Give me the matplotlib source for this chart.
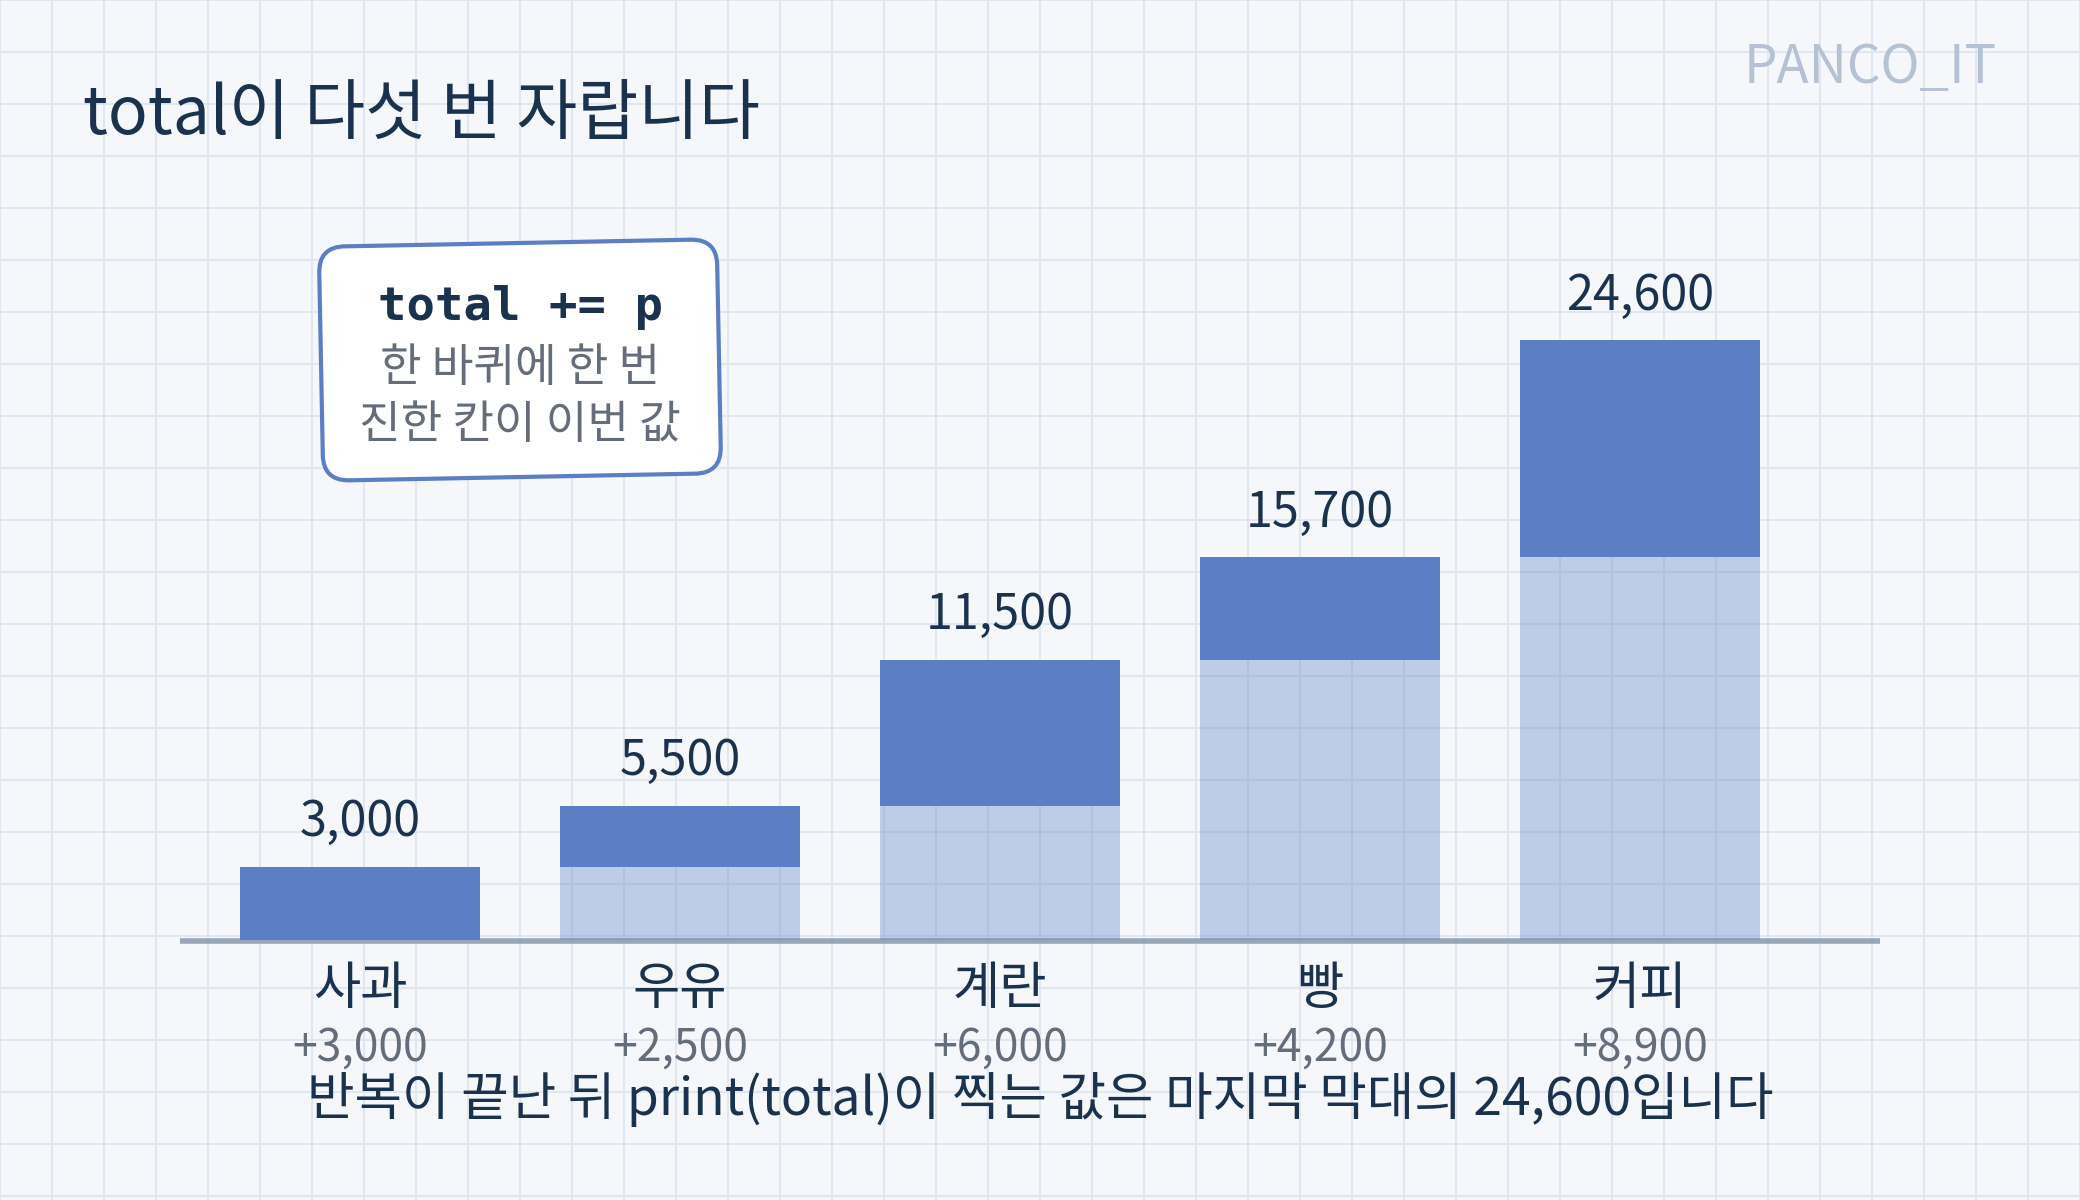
"""total += p : running total of a shopping loop, drawn as stacked bars."""
import numpy as np
import matplotlib
matplotlib.use("Agg")
import matplotlib.pyplot as plt
from matplotlib.patches import FancyBboxPatch
from matplotlib.transforms import Affine2D

plt.rcParams["font.family"] = ["Noto Sans CJK KR", "DejaVu Sans"]

items = ["사과", "우유", "계란", "빵", "커피"]
prices = [3000, 2500, 6000, 4200, 8900]
before = [0, 3000, 5500, 11500, 15700]
totals = [3000, 5500, 11500, 15700, 24600]

BG = "#f5f7fb"
GRID = "#dce4ef"
BLUE = "#5b7ec4"
NAVY = "#1b324f"
GREY = "#646d79"
AXIS = "#98a6b8"

W, H, DPI = 2080, 1200, 200


def px(x, y_top):
    """figure fraction from pixel coords measured from the top-left."""
    return x / W, 1 - y_top / H


def background(fig):
    bg = fig.add_axes([0, 0, 1, 1], zorder=-5)
    bg.set_xlim(0, W)
    bg.set_ylim(H, 0)
    bg.set_facecolor(BG)
    bg.set_xticks(np.arange(0, W + 1, 52))
    bg.set_yticks(np.arange(0, H + 1, 52))
    bg.grid(True, color=GRID, lw=0.6)
    bg.tick_params(length=0, labelbottom=False, labelleft=False)
    for s in bg.spines.values():
        s.set_visible(False)
    return bg


def note_box(fig):
    ov = fig.add_axes([0, 0, 1, 1], zorder=5)
    ov.set_xlim(0, W)
    ov.set_ylim(0, H)
    ov.axis("off")
    cx, cy, bw, bh = 520, H - 360, 398, 234
    rot = Affine2D().rotate_deg_around(cx, cy, 1.1) + ov.transData
    ov.add_patch(FancyBboxPatch((cx - bw / 2, cy - bh / 2), bw, bh,
                                boxstyle="round,pad=0,rounding_size=26",
                                facecolor="white", edgecolor=BLUE, lw=1.5,
                                transform=rot))
    ov.text(cx, H - 320, "total += p", ha="center", va="baseline",
            fontsize=17, fontweight="bold", family="DejaVu Sans Mono",
            color=NAVY)
    ov.text(cx, H - 381, "한 바퀴에 한 번", ha="center", va="baseline",
            fontsize=16.3, color=GREY)
    ov.text(cx, H - 438, "진한 칸이 이번 값", ha="center", va="baseline",
            fontsize=16.3, color=GREY)


def main():
    fig = plt.figure(figsize=(W / DPI, H / DPI), dpi=DPI)
    fig.patch.set_facecolor(BG)
    background(fig)

    # chart axes: baseline at y=940px, bars every 320px starting at x=360
    ax = fig.add_axes([180 / W, (H - 940) / H, 1700 / W, 640 / H])
    ax.set_facecolor("none")
    ax.set_xlim(-0.5625, 4.75)
    ax.set_ylim(0, 640 / (600 / 24600))
    ax.axis("off")

    x = np.arange(len(items))
    ax.axhline(-40, color=AXIS, lw=2.0, zorder=1, clip_on=False,
               solid_capstyle="butt")
    ax.bar(x, before, width=0.75, color=BLUE, alpha=0.35, lw=0, zorder=2)
    ax.bar(x, prices, bottom=before, width=0.75, color=BLUE, lw=0, zorder=3)

    for i in x:
        ax.annotate(f"{totals[i]:,}", (i, totals[i]), xytext=(0, 11),
                    textcoords="offset points", ha="center", va="baseline",
                    fontsize=17.5, color=NAVY, annotation_clip=False)
        ax.annotate(items[i], (i, 0), xytext=(0, -23),
                    textcoords="offset points", ha="center", va="baseline",
                    fontsize=18.5, color=NAVY, annotation_clip=False)
        ax.annotate(f"+{prices[i]:,}", (i, 0), xytext=(0, -43.5),
                    textcoords="offset points", ha="center", va="baseline",
                    fontsize=16, color=GREY, annotation_clip=False)

    note_box(fig)

    fig.text(*px(83, 135), "total이 다섯 번 자랍니다", ha="left",
             va="baseline", fontsize=23.8, color=NAVY)
    fig.text(*px(1997, 83), "PANCO_IT", ha="right", va="baseline",
             fontsize=19, color="#b5c2d3")
    fig.text(*px(1040, 1115),
             "반복이 끝난 뒤 print(total)이 찍는 값은 마지막 막대의 24,600입니다",
             ha="center", va="baseline", fontsize=18.6, color=NAVY)

    fig.savefig("out.png", dpi=DPI, facecolor=BG)
    plt.close(fig)


if __name__ == "__main__":
    main()
